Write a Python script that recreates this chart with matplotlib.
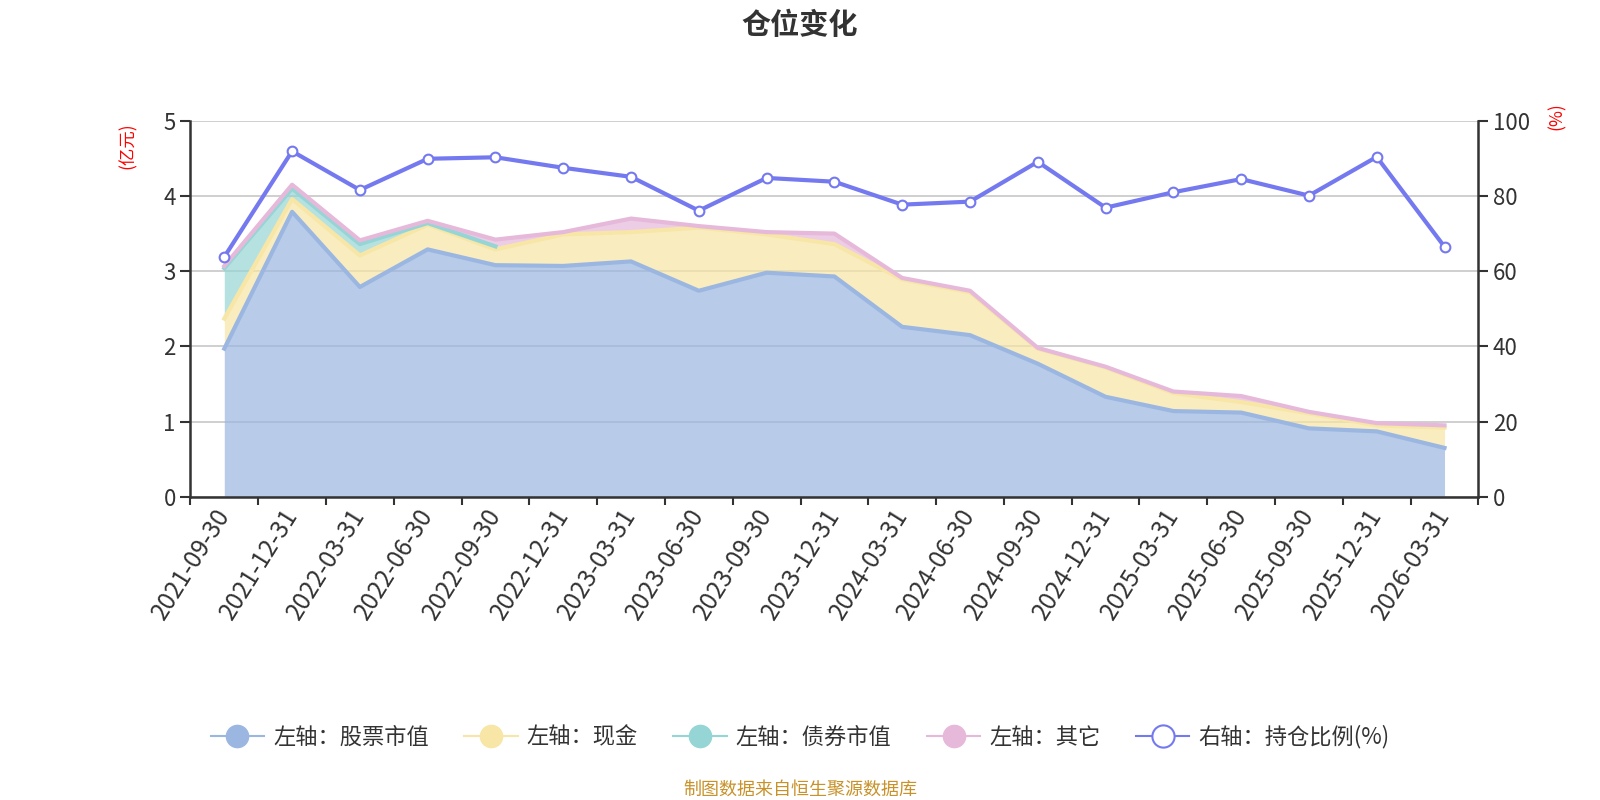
import numpy as np
import matplotlib
matplotlib.use("Agg")
import matplotlib.pyplot as plt
from matplotlib.lines import Line2D

plt.rcParams['font.family'] = ['Noto Sans CJK SC', 'DejaVu Sans']

dates = ["2021-09-30", "2021-12-31", "2022-03-31", "2022-06-30", "2022-09-30",
         "2022-12-31", "2023-03-31", "2023-06-30", "2023-09-30", "2023-12-31",
         "2024-03-31", "2024-06-30", "2024-09-30", "2024-12-31", "2025-03-31",
         "2025-06-30", "2025-09-30", "2025-12-31", "2026-03-31"]

# 亿元
stock = [1.97, 3.79, 2.79, 3.29, 3.08, 3.07, 3.13, 2.74, 2.98, 2.93,
         2.26, 2.15, 1.77, 1.33, 1.14, 1.12, 0.91, 0.87, 0.65]
cash = [0.40, 0.17, 0.42, 0.33, 0.21, 0.42, 0.39, 0.84, 0.51, 0.43,
        0.63, 0.57, 0.20, 0.39, 0.24, 0.14, 0.20, 0.08, 0.27]
# no bond holdings reported after 2022-09-30
bond = [0.67, 0.14, 0.15, 0.02, 0.04, None, None, None, None, None,
        None, None, None, None, None, None, None, None, None]
other = [0.03, 0.05, 0.05, 0.03, 0.09, 0.03, 0.18, 0.02, 0.03, 0.14,
         0.02, 0.02, 0.01, 0.01, 0.02, 0.08, 0.02, 0.03, 0.03]
# %
ratio = [63.8, 91.9, 81.6, 89.9, 90.3, 87.5, 85.1, 76.1, 84.8, 83.8,
         77.7, 78.5, 89.1, 76.9, 81.0, 84.5, 80.1, 90.4, 66.5]

names = ["左轴：股票市值", "左轴：现金", "左轴：债券市值", "左轴：其它"]
colors = ["#9bb7e1", "#f7e6a6", "#96d5d5", "#e6b9da"]
ratio_color = "#7479f0"

x = np.arange(len(dates))
series = [np.array([np.nan if v is None else v for v in s], dtype=float)
          for s in (stock, cash, bond, other)]

fig = plt.figure(figsize=(16, 8), dpi=100)
ax = fig.add_axes([0.119, 0.379, 0.805, 0.470])
ax2 = ax.twinx()

# stacked areas (missing values count as 0 for the stack, but get no line)
base = np.zeros(len(dates))
tops = []
for vals, c in zip(series, colors):
    top = base + np.nan_to_num(vals)
    ax.fill_between(x, base, top, color=c, alpha=0.7, linewidth=0, zorder=2)
    tops.append(np.where(np.isnan(vals), np.nan, top))
    base = top
for top, c in zip(tops, colors):
    ax.plot(x, top, color=c, linewidth=3, zorder=3, solid_joinstyle="round")

ax.set_ylim(0, 5)
ax.set_yticks([0, 1, 2, 3, 4, 5])
ax.set_xlim(-0.5, len(dates) - 0.5)
ax.grid(axis="y", color="#cccccc", linewidth=1.3, zorder=1)
ax.set_axisbelow(True)

# category ticks between bands, labels at centres
ax.set_xticks(np.arange(-0.5, len(dates), 1.0))
ax.set_xticklabels([])
ax.set_xticks(x, minor=True)
ax.set_xticklabels(dates, minor=True, rotation=58, ha="right", va="center",
                   rotation_mode="anchor", fontsize=17.5, color="#333333")
ax.tick_params(axis="x", which="minor", length=0, pad=10)
ax.tick_params(axis="x", which="major", length=6, width=1.5, color="#333333")
ax.tick_params(axis="y", length=7, width=1.5, color="#333333",
               labelsize=16, labelcolor="#333333")

ax2.plot(x, ratio, color=ratio_color, linewidth=3, marker="o", markersize=7,
         markerfacecolor="white", markeredgecolor=ratio_color,
         markeredgewidth=1.5, zorder=5)
ax2.set_ylim(0, 100)
ax2.set_yticks([0, 20, 40, 60, 80, 100])
ax2.tick_params(axis="y", length=7, width=1.5, color="#333333",
                labelsize=16, labelcolor="#333333")

for a in (ax, ax2):
    a.spines["top"].set_visible(False)
    for s in ("left", "right", "bottom"):
        a.spines[s].set_color("#333333")
        a.spines[s].set_linewidth(1.8)
ax.spines["right"].set_visible(False)
ax2.spines["left"].set_visible(False)
ax2.spines["bottom"].set_visible(False)

fig.text(0.5, 0.969, "仓位变化", ha="center", va="center", fontsize=21,
         fontweight="bold", color="#333333")
fig.text(0.080, 0.818, "(亿元)", ha="center", va="center", rotation=90,
         fontsize=12.5, color="red")
fig.text(0.973, 0.855, "(%)", ha="center", va="center", rotation=90,
         fontsize=12.5, color="red")

handles = [Line2D([0], [0], color=c, linewidth=1.5, marker="o", markersize=16,
                  markerfacecolor=c, markeredgecolor=c) for c in colors]
handles.append(Line2D([0], [0], color=ratio_color, linewidth=1.5, marker="o",
                      markersize=16, markerfacecolor="white",
                      markeredgecolor=ratio_color, markeredgewidth=1.5))
fig.legend(handles, names + ["右轴：持仓比例(%)"], loc="center",
           bbox_to_anchor=(0.5, 0.079), ncol=5, frameon=False, fontsize=16,
           handlelength=2.4, handletextpad=0.4, columnspacing=1.6,
           labelcolor="#333333")

fig.text(0.5, 0.013, "制图数据来自恒生聚源数据库", ha="center", va="center",
         fontsize=13, color="#c8922a")

fig.savefig("out.png", dpi=100)
